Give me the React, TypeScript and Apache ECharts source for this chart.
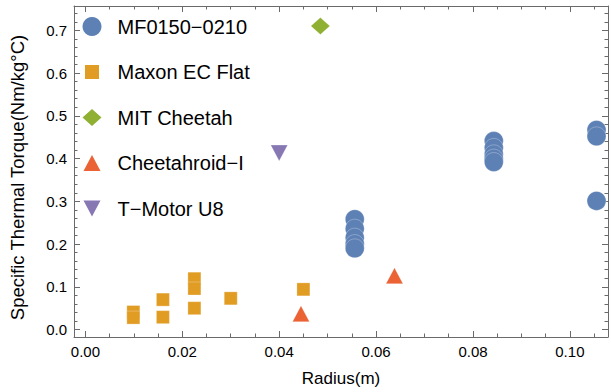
import React, { useEffect, useRef } from "react";
import * as echarts from "echarts";

// ---- data (radius in m, specific thermal torque in Nm/kg°C) ----
const mfRadius = [0.0556, 0.0556, 0.0556, 0.0556, 0.0556, 0.0843, 0.0843, 0.0843, 0.0843, 0.0843, 0.1055, 0.1055, 0.1055];
const mfTorque = [0.258, 0.236, 0.215, 0.2, 0.19, 0.441, 0.425, 0.41, 0.4, 0.392, 0.467, 0.452, 0.301];

const maxonRadius = [0.0099, 0.0099, 0.016, 0.016, 0.0225, 0.0225, 0.0225, 0.030, 0.045];
const maxonTorque = [0.041, 0.028, 0.070, 0.029, 0.119, 0.096, 0.050, 0.073, 0.094];

const mitRadius = [0.0485];
const mitTorque = [0.710];

const cheetahroidRadius = [0.0445, 0.0638];
const cheetahroidTorque = [0.037, 0.126];

const tmotorRadius = [0.040];
const tmotorTorque = [0.413];

const seriesNames = ["MF0150\u22120210", "Maxon EC Flat", "MIT Cheetah", "Cheetahroid\u2212I", "T\u2212Motor U8"];
const seriesColors = ["#5E81B5", "#E19C24", "#8FB032", "#EB6235", "#8778B3"];

const xTicksMajor = 0.02;
const xTicksMinor = 0.005;
const yTicksMajor = 0.1;
const yTicksMinor = 0.02;

const xName = "Radius(m)";
const yName = "Specific Thermal Torque(Nm/kg\u00B0C)";

const pairs = (xs: number[], ys: number[]) => xs.map((x, i) => [x, ys[i]]);

const FONT = "Liberation Sans, Arial, sans-serif";
const FRAME = "#6a6a6a";

// legend icons drawn inside a fixed 19x19 box (corner anchors keep the box size)
const BOX = "M0,0L0.01,0M19,19L18.99,19";
const legendIcons = [
  "circle",
  `path://${BOX}M2.5,2.5L16.5,2.5L16.5,16.5L2.5,16.5Z`,
  `path://${BOX}M9.5,1L19,9.5L9.5,18L0,9.5Z`,
  `path://${BOX}M9.5,1.5L18,17.5L1,17.5Z`,
  `path://${BOX}M1,1.5L18,1.5L9.5,17.5Z`,
];

export default function App() {
  const ref = useRef<HTMLDivElement>(null);
  useEffect(() => {
    if (!ref.current) return;
    const chart = echarts.init(ref.current, undefined, { renderer: "svg" });

    const xMin = -0.00235;
    const xMax = 0.10787;
    const yMin = -0.01744;
    const yMax = 0.757;

    const isMultiple = (v: number, step: number) => Math.abs(v / step - Math.round(v / step)) < 1e-6;

    const xBase = {
      type: "value" as const,
      min: xMin,
      max: xMax,
      splitLine: { show: false },
    };
    const yBase = {
      type: "value" as const,
      min: yMin,
      max: yMax,
      splitLine: { show: false },
    };
    const lineOn = { show: true, onZero: false, lineStyle: { color: FRAME, width: 1 } };
    const lineOff = { show: false, onZero: false };

    const xAxes = [
      {
        ...xBase,
        position: "bottom",
        minInterval: xTicksMajor,
        maxInterval: xTicksMajor,
        axisLine: lineOn,
        axisTick: { show: true, inside: true, length: 6, lineStyle: { color: FRAME } },
        axisLabel: {
          show: true,
          margin: 7,
          fontSize: 15,
          fontFamily: FONT,
          color: "#000",
          formatter: (v: number) => (isMultiple(v, xTicksMajor) ? v.toFixed(2) : ""),
        },
        name: xName,
        nameLocation: "middle",
        nameGap: 33,
        nameTextStyle: { fontSize: 17, fontFamily: FONT, color: "#000" },
      },
      {
        ...xBase,
        position: "bottom",
        minInterval: xTicksMinor,
        maxInterval: xTicksMinor,
        axisLine: lineOff,
        axisTick: { show: true, inside: true, length: 3.5, lineStyle: { color: FRAME } },
        axisLabel: { show: false },
      },
      {
        ...xBase,
        position: "top",
        minInterval: xTicksMajor,
        maxInterval: xTicksMajor,
        axisLine: lineOn,
        axisTick: { show: true, inside: true, length: 6, lineStyle: { color: FRAME } },
        axisLabel: { show: false },
      },
      {
        ...xBase,
        position: "top",
        minInterval: xTicksMinor,
        maxInterval: xTicksMinor,
        axisLine: lineOff,
        axisTick: { show: true, inside: true, length: 3.5, lineStyle: { color: FRAME } },
        axisLabel: { show: false },
      },
    ];

    const yAxes = [
      {
        ...yBase,
        position: "left",
        minInterval: yTicksMajor,
        maxInterval: yTicksMajor,
        axisLine: lineOn,
        axisTick: { show: true, inside: true, length: 6, lineStyle: { color: FRAME } },
        axisLabel: {
          show: true,
          margin: 7,
          fontSize: 15,
          fontFamily: FONT,
          color: "#000",
          formatter: (v: number) => (isMultiple(v, yTicksMajor) ? v.toFixed(1) : ""),
        },
        name: yName,
        nameLocation: "middle",
        nameGap: 47,
        nameTextStyle: {
          fontSize: 18.5,
          fontFamily: FONT,
          color: "#000",
          padding: [0, 12, 0, 0],
        },
      },
      {
        ...yBase,
        position: "left",
        minInterval: yTicksMinor,
        maxInterval: yTicksMinor,
        axisLine: lineOff,
        axisTick: { show: true, inside: true, length: 3.5, lineStyle: { color: FRAME } },
        axisLabel: { show: false },
      },
      {
        ...yBase,
        position: "right",
        minInterval: yTicksMajor,
        maxInterval: yTicksMajor,
        axisLine: lineOn,
        axisTick: { show: true, inside: true, length: 6, lineStyle: { color: FRAME } },
        axisLabel: { show: false },
      },
      {
        ...yBase,
        position: "right",
        minInterval: yTicksMinor,
        maxInterval: yTicksMinor,
        axisLine: lineOff,
        axisTick: { show: true, inside: true, length: 3.5, lineStyle: { color: FRAME } },
        axisLabel: { show: false },
      },
    ];

    const style = (c: string) => ({
      color: c,
      opacity: 1,
      borderColor: "rgba(255,255,255,0.45)",
      borderWidth: 0.6,
    });

    chart.setOption({
      animation: false,
      backgroundColor: "#fff",
      grid: { left: 73, right: -1, top: 6, bottom: 53, containLabel: false },
      xAxis: xAxes,
      yAxis: yAxes,
      legend: {
        orient: "vertical",
        left: 77.5,
        top: 11.5,
        itemWidth: 19,
        itemHeight: 19,
        itemGap: 25.5,
        itemStyle: { borderWidth: 0 },
        textStyle: {
          fontSize: 20,
          fontFamily: FONT,
          color: "#000",
          padding: [0, 0, 0, 11],
        },
        data: seriesNames.map((name, i) => ({ name, icon: legendIcons[i] })),
      },
      series: [
        {
          name: seriesNames[0],
          type: "scatter",
          symbol: "circle",
          symbolSize: 19,
          itemStyle: style(seriesColors[0]),
          data: pairs(mfRadius, mfTorque),
        },
        {
          name: seriesNames[1],
          type: "scatter",
          symbol: "rect",
          symbolSize: 13,
          itemStyle: style(seriesColors[1]),
          data: pairs(maxonRadius, maxonTorque),
        },
        {
          name: seriesNames[2],
          type: "scatter",
          symbol: "diamond",
          symbolSize: [19, 17],
          itemStyle: style(seriesColors[2]),
          data: pairs(mitRadius, mitTorque),
        },
        {
          name: seriesNames[3],
          type: "scatter",
          symbol: "triangle",
          symbolSize: [17, 16],
          itemStyle: style(seriesColors[3]),
          data: pairs(cheetahroidRadius, cheetahroidTorque),
        },
        {
          name: seriesNames[4],
          type: "scatter",
          symbol: "path://M0,0L2,0L1,1.8Z",
          symbolSize: [17, 16],
          itemStyle: style(seriesColors[4]),
          data: pairs(tmotorRadius, tmotorTorque),
        },
      ],
    });
    return () => chart.dispose();
  }, []);

  return (
    <div
      ref={ref}
      style={{ position: "fixed", left: 0, top: 0, width: 611, height: 392 }}
    />
  );
}
